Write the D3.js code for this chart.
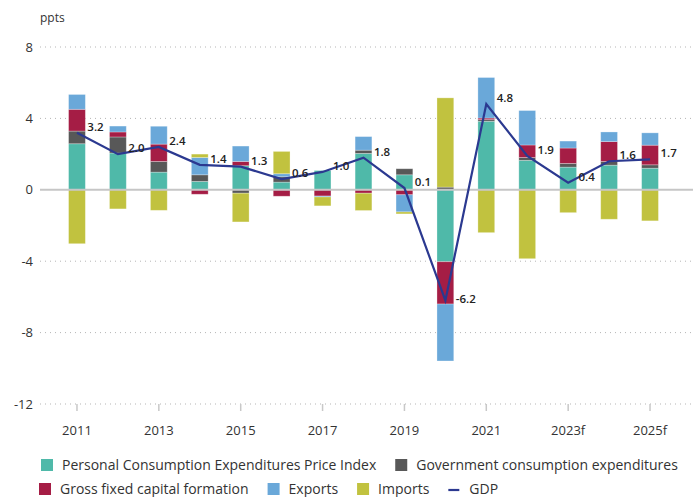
<!DOCTYPE html>
<html>
<head>
<meta charset="utf-8">
<title>GDP contributions</title>
<style>
  body { margin: 0; background: #fff; }
  text { font-family: "Open Sans", "Noto Sans", sans-serif; fill: #333; }
</style>
</head>
<body>
<script src="https://cdn.jsdelivr.net/npm/d3@7"></script>
<script>
// data (ppts)
var years = ["2011","2012","2013","2014","2015","2016","2017","2018","2019","2020","2021","2022","2023f","2024f","2025f"];
var pce     = [2.58, 2.06, 0.99, 0.47, 1.35, 0.43, 1.08, 2.04, 0.84, -4.03, 3.84, 1.65, 1.27, 1.38, 1.21];
var govt    = [0.71, 0.90, 0.60, 0.37, -0.19, 0.30, 0.00, 0.18, 0.34, 0.15, 0.09, 0.16, 0.21, 0.21, 0.19];
var gfcf    = [1.22, 0.28, 0.97, -0.25, 0.24, -0.36, -0.35, -0.19, -0.28, -2.37, 0.09, 0.70, 0.86, 1.11, 1.10];
var exports = [0.83, 0.33, 1.00, 0.97, 0.86, 0.17, -0.05, 0.76, -0.96, -3.19, 2.27, 1.93, 0.39, 0.54, 0.69];
var imports = [-3.02, -1.07, -1.15, 0.19, -1.61, 1.25, -0.50, -0.97, -0.11, 5.00, -2.40, -3.86, -1.28, -1.65, -1.74];
var gdp     = [3.2, 2.0, 2.4, 1.4, 1.3, 0.6, 1.0, 1.8, 0.1, -6.2, 4.8, 1.9, 0.4, 1.6, 1.7];
var yTicks  = [8, 4, 0, -4, -8, -12];
var xTickYears = ["2011","2013","2015","2017","2019","2021","2023f","2025f"];

var seriesNames = ["Personal Consumption Expenditures Price Index", "Government consumption expenditures",
                   "Gross fixed capital formation", "Exports", "Imports"];
var seriesKeys = ["pce", "govt", "gfcf", "exports", "imports"];
var colors = ["#4fb9a9", "#585858", "#a51d45", "#6aa8d9", "#c1c23f"];
var lineColor = "#2b3990";

var W = 693, H = 497;
var svg = d3.select("body").append("svg").attr("width", W).attr("height", H);

var x = d3.scaleBand().domain(years).range([56.5, 670.5]).paddingInner(0.59).paddingOuter(0.295);
var y = d3.scaleLinear().domain([-12, 8]).range([404, 47]);

// build table for stacking
var table = years.map(function(yr, i) {
  return {year: yr, pce: pce[i], govt: govt[i], gfcf: gfcf[i], exports: exports[i], imports: imports[i]};
});
var stacked = d3.stack().keys(seriesKeys).offset(d3.stackOffsetDiverging)(table);

// gridlines
var grid = svg.append("g");
grid.selectAll("line").data(yTicks.filter(function(t) { return t !== 0; })).enter().append("line")
  .attr("x1", 40).attr("x2", W).attr("y1", function(d) { return y(d); }).attr("y2", function(d) { return y(d); })
  .attr("stroke", "#b5b5b5").attr("stroke-width", 1).attr("stroke-dasharray", "1,4");

// y labels
svg.append("g").selectAll("text").data(yTicks).enter().append("text")
  .attr("x", 33).attr("y", function(d) { return y(d); }).attr("dy", "0.35em")
  .attr("text-anchor", "end").style("font-size", "13px")
  .text(function(d) { return d; });

svg.append("text").attr("x", 40).attr("y", 22).style("font-size", "12px").text("ppts");

// x ticks
var xt = svg.append("g");
xt.selectAll("line").data(xTickYears).enter().append("line")
  .attr("x1", function(d) { return x(d) + x.bandwidth() / 2; })
  .attr("x2", function(d) { return x(d) + x.bandwidth() / 2; })
  .attr("y1", y(-12)).attr("y2", y(-12) + 7)
  .attr("stroke", "#c8c8c8").attr("stroke-width", 1.5);
xt.selectAll("text").data(xTickYears).enter().append("text")
  .attr("x", function(d) { return x(d) + x.bandwidth() / 2; })
  .attr("y", 430).attr("dy", "0.35em").attr("text-anchor", "middle")
  .style("font-size", "13px").text(function(d) { return d; });

// bars
var layers = svg.append("g").selectAll("g").data(stacked).enter().append("g")
  .attr("fill", function(d, i) { return colors[i]; });
layers.selectAll("rect").data(function(d) { return d; }).enter().append("rect")
  .attr("x", function(d) { return x(d.data.year); })
  .attr("width", x.bandwidth())
  .attr("y", function(d) { return y(Math.max(d[0], d[1])); })
  .attr("height", function(d) { return Math.abs(y(d[0]) - y(d[1])); })
  .attr("stroke", "#fff").attr("stroke-opacity", 0.35).attr("stroke-width", 0.8);

// zero line
svg.append("line").attr("x1", 40).attr("x2", W).attr("y1", y(0)).attr("y2", y(0))
  .attr("stroke", "#c6c6c6").attr("stroke-width", 2);

// GDP line
var line = d3.line()
  .x(function(d, i) { return x(years[i]) + x.bandwidth() / 2; })
  .y(function(d) { return y(d); });
svg.append("path").datum(gdp).attr("d", line)
  .attr("fill", "none").attr("stroke", lineColor).attr("stroke-width", 2.2);

// GDP labels
svg.append("g").selectAll("text").data(gdp).enter().append("text")
  .attr("x", function(d, i) { return x(years[i]) + x.bandwidth() + 2; })
  .attr("y", function(d) { return y(d) - (d < 0 ? 1 : 6); })
  .attr("dy", "0.35em")
  .style("font-size", "11.5px").style("font-weight", "600").style("fill", "#222")
  .text(function(d) { return d.toFixed(1); });

// legend
var legendItems = [
  {row: 0, name: seriesNames[0], color: colors[0], type: "rect"},
  {row: 0, name: seriesNames[1], color: colors[1], type: "rect"},
  {row: 1, name: seriesNames[2], color: colors[2], type: "rect"},
  {row: 1, name: seriesNames[3], color: colors[3], type: "rect"},
  {row: 1, name: seriesNames[4], color: colors[4], type: "rect"},
  {row: 1, name: "GDP", color: lineColor, type: "line"}
];
var rowStart = [41, 39], rowY = [465, 489];
var cursor = rowStart.slice();
var legend = svg.append("g");
legendItems.forEach(function(it) {
  var g = legend.append("g").attr("transform", "translate(" + cursor[it.row] + "," + rowY[it.row] + ")");
  if (it.type === "rect") {
    g.append("rect").attr("x", 0).attr("y", -6).attr("width", 12).attr("height", 12).attr("fill", it.color);
  } else {
    g.append("line").attr("x1", 0).attr("x2", 11).attr("y1", 1).attr("y2", 1)
      .attr("stroke", it.color).attr("stroke-width", 2.2);
  }
  var t = g.append("text").attr("x", 21).attr("dy", "0.35em").style("font-size", "14px").text(it.name);
  cursor[it.row] += 21 + t.node().getComputedTextLength() + 19;
});
</script>
</body>
</html>
